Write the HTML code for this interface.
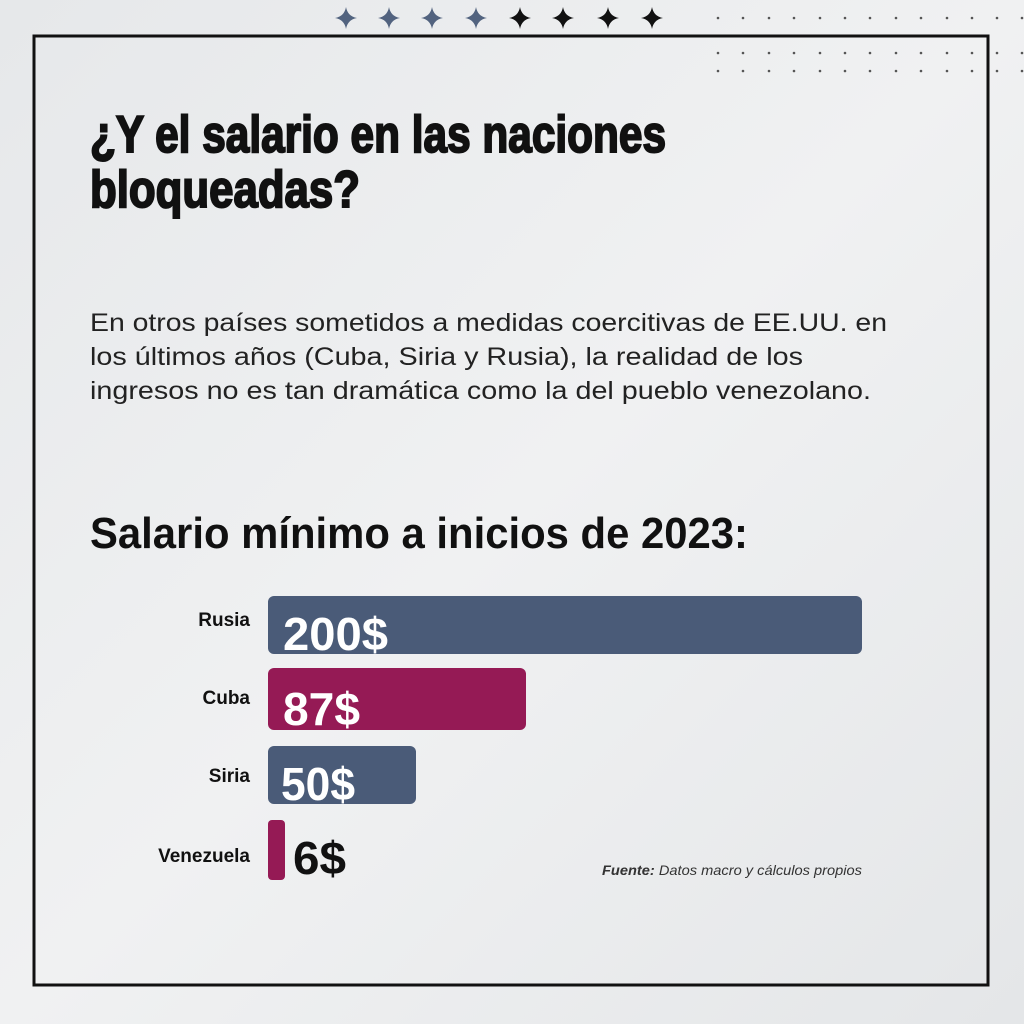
<!DOCTYPE html>
<html><head><meta charset="utf-8"><style>
html,body{margin:0;padding:0;width:1024px;height:1024px;overflow:hidden;background:#eceeef}
</style></head><body>
<svg width="1024" height="1024" viewBox="0 0 1024 1024" xmlns="http://www.w3.org/2000/svg">
<defs>
<linearGradient id="bg" x1="0" y1="0" x2="1" y2="1">
<stop offset="0" stop-color="#e6e8ea"/><stop offset="0.5" stop-color="#f0f1f2"/><stop offset="1" stop-color="#e4e6e8"/>
</linearGradient>
<symbol id="st" viewBox="-10 -10 20 20"><path d="M0,-10 Q1.5,-1.5 10,0 Q1.5,1.5 0,10 Q-1.5,1.5 -10,0 Q-1.5,-1.5 0,-10Z"/></symbol>
</defs>
<rect width="1024" height="1024" fill="url(#bg)"/>
<g fill="#52637f">
<use href="#st" x="335" y="7" width="22" height="22"/>
<use href="#st" x="378" y="7" width="22" height="22"/>
<use href="#st" x="421" y="7" width="22" height="22"/>
<use href="#st" x="465" y="7" width="22" height="22"/>
</g>
<g fill="#111">
<use href="#st" x="509" y="7" width="22" height="22"/>
<use href="#st" x="552" y="7" width="22" height="22"/>
<use href="#st" x="597" y="7" width="22" height="22"/>
<use href="#st" x="641" y="7" width="22" height="22"/>
</g>
<g fill="#555">
<circle cx="718" cy="18" r="1.3"/><circle cx="743" cy="18" r="1.3"/><circle cx="769" cy="18" r="1.3"/><circle cx="794" cy="18" r="1.3"/><circle cx="820" cy="18" r="1.3"/><circle cx="845" cy="18" r="1.3"/><circle cx="870" cy="18" r="1.3"/><circle cx="896" cy="18" r="1.3"/><circle cx="921" cy="18" r="1.3"/><circle cx="947" cy="18" r="1.3"/><circle cx="972" cy="18" r="1.3"/><circle cx="997" cy="18" r="1.3"/><circle cx="1022" cy="18" r="1.3"/>
<circle cx="718" cy="53" r="1.3"/><circle cx="743" cy="53" r="1.3"/><circle cx="769" cy="53" r="1.3"/><circle cx="794" cy="53" r="1.3"/><circle cx="820" cy="53" r="1.3"/><circle cx="845" cy="53" r="1.3"/><circle cx="870" cy="53" r="1.3"/><circle cx="896" cy="53" r="1.3"/><circle cx="921" cy="53" r="1.3"/><circle cx="947" cy="53" r="1.3"/><circle cx="972" cy="53" r="1.3"/><circle cx="997" cy="53" r="1.3"/><circle cx="1022" cy="53" r="1.3"/>
<circle cx="718" cy="71" r="1.3"/><circle cx="743" cy="71" r="1.3"/><circle cx="769" cy="71" r="1.3"/><circle cx="794" cy="71" r="1.3"/><circle cx="820" cy="71" r="1.3"/><circle cx="845" cy="71" r="1.3"/><circle cx="870" cy="71" r="1.3"/><circle cx="896" cy="71" r="1.3"/><circle cx="921" cy="71" r="1.3"/><circle cx="947" cy="71" r="1.3"/><circle cx="972" cy="71" r="1.3"/><circle cx="997" cy="71" r="1.3"/><circle cx="1022" cy="71" r="1.3"/>
</g>
<rect x="34" y="36" width="954" height="949" fill="none" stroke="#111" stroke-width="3"/>
<g font-family="Liberation Sans, sans-serif" fill="#111">
<g stroke="#111" stroke-width="2" font-size="52" font-weight="bold">
<text x="90" y="152" textLength="576" lengthAdjust="spacingAndGlyphs">¿Y el salario en las naciones</text>
<text x="90" y="207" textLength="270" lengthAdjust="spacingAndGlyphs">bloqueadas?</text>
</g>
<g fill="#222" font-size="25">
<text x="90" y="331" textLength="797" lengthAdjust="spacingAndGlyphs">En otros países sometidos a medidas coercitivas de EE.UU. en</text>
<text x="90" y="365" textLength="713" lengthAdjust="spacingAndGlyphs">los últimos años (Cuba, Siria y Rusia), la realidad de los</text>
<text x="90" y="399" textLength="781" lengthAdjust="spacingAndGlyphs">ingresos no es tan dramática como la del pueblo venezolano.</text>
</g>
<text x="90" y="548" font-size="44" font-weight="bold" textLength="658" lengthAdjust="spacingAndGlyphs">Salario mínimo a inicios de 2023:</text>
<g font-size="19" font-weight="bold" text-anchor="end">
<text x="250" y="626">Rusia</text>
<text x="250" y="704">Cuba</text>
<text x="250" y="782">Siria</text>
<text x="250" y="862">Venezuela</text>
</g>
<rect x="268" y="596" width="594" height="58" rx="6" fill="#4a5b78"/>
<rect x="268" y="668" width="258" height="62" rx="6" fill="#951a55"/>
<rect x="268" y="746" width="148" height="58" rx="6" fill="#4a5b78"/>
<rect x="268" y="820" width="17" height="60" rx="4" fill="#951a55"/>
<g font-size="46" font-weight="bold" fill="#fff">
<text x="283" y="650" textLength="105" lengthAdjust="spacingAndGlyphs">200$</text>
<text x="283" y="725" textLength="77" lengthAdjust="spacingAndGlyphs">87$</text>
<text x="281" y="800" textLength="74" lengthAdjust="spacingAndGlyphs">50$</text>
<text x="293" y="874" fill="#111" textLength="53" lengthAdjust="spacingAndGlyphs">6$</text>
</g>
<text x="602" y="875" font-size="14" font-style="italic" fill="#333" textLength="260" lengthAdjust="spacingAndGlyphs"><tspan font-weight="bold">Fuente:</tspan> Datos macro y cálculos propios</text>
</g>
</svg>
</body></html>
